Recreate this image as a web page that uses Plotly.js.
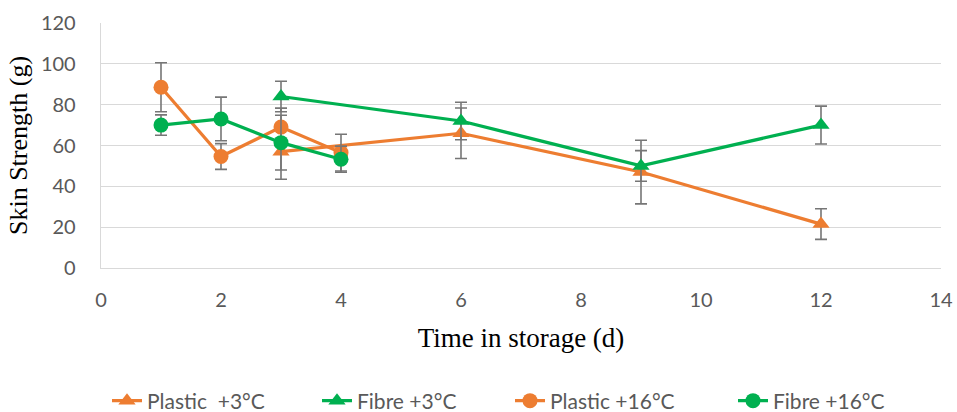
<!DOCTYPE html>
<html>
<head>
<meta charset="utf-8">
<script src="https://cdn.plot.ly/plotly-3.0.1.min.js"></script>
<style>html,body{margin:0;padding:0;background:#fff;}#chart{width:957px;height:412px;}</style>
</head>
<body>
<div id="chart"></div>
<script>
// Days in storage
const days3 = [3, 6, 9, 12];
const days16 = [1, 2, 3, 4];

// Skin strength (g) and error bar half-widths
const plastic3 = [57, 66, 47, 21.5];
const plastic3Err = [13.5, 12.4, 15.6, 7.5];
const fibre3 = [84, 72, 50, 70];
const fibre3Err = [7.5, 9.2, 7.5, 9.3];
const plastic16 = [88.5, 54.6, 69, 56.5];
const plastic16Err = [12, 6.3, 9.3, 9];
const fibre16 = [70, 73, 61.4, 53.3];
const fibre16Err = [5, 10.7, 13.4, 6.4];

const names = ['Plastic\u00a0 +3°C', 'Fibre +3°C', 'Plastic +16°C', 'Fibre +16°C'];
const xTicks = [0, 2, 4, 6, 8, 10, 12, 14];
const yTicks = [0, 20, 40, 60, 80, 100, 120];

const ORANGE = '#ED7D31';
const GREEN = '#00B050';
const ERR = '#767676';

function tr(x, y, err, name, color, symbol, legend) {
  return {
    x: x, y: y, name: name, type: 'scatter', mode: 'lines+markers',
    line: {color: color, width: 3.2},
    marker: {color: color, symbol: symbol, size: 15},
    error_y: {type: 'data', array: err, visible: true, color: ERR, thickness: 1.6, width: 6},
    legend: legend
  };
}

const data = [
  tr(days3, plastic3, plastic3Err, names[0], ORANGE, 'triangle-up', 'legend'),
  tr(days3, fibre3, fibre3Err, names[1], GREEN, 'triangle-up', 'legend2'),
  tr(days16, plastic16, plastic16Err, names[2], ORANGE, 'circle', 'legend3'),
  tr(days16, fibre16, fibre16Err, names[3], GREEN, 'circle', 'legend4')
];

const legFont = {family: 'Lato, sans-serif', size: 21, color: '#595959'};
function leg(xpx) {
  return {xref: 'container', yref: 'container', x: xpx / 957, xanchor: 'left',
          y: 1 - 401 / 412, yanchor: 'middle',
          orientation: 'h', font: legFont, bgcolor: 'rgba(0,0,0,0)', borderwidth: 0};
}

const tickFont = {family: 'Lato, sans-serif', size: 20, color: '#595959'};
const serif = 'Liberation Serif, Times New Roman, serif';

const layout = {
  width: 957, height: 412,
  margin: {l: 101, r: 16, t: 23, b: 144},
  paper_bgcolor: '#fff', plot_bgcolor: '#fff',
  showlegend: true,
  legend: leg(107), legend2: leg(317), legend3: leg(510), legend4: leg(733),
  xaxis: {
    range: [0, 14], tickvals: xTicks, ticktext: xTicks.map(String),
    showgrid: false, zeroline: false, showline: true, linecolor: '#d9d9d9', linewidth: 1.3,
    ticks: '', ticklabelstandoff: 14,
    tickfont: tickFont,
    title: {text: 'Time in storage (d)', font: {family: serif, size: 27, color: '#000'}, standoff: 17},
    automargin: false, fixedrange: true
  },
  yaxis: {
    range: [0, 120], tickvals: yTicks, ticktext: yTicks.map(String),
    showgrid: true, gridcolor: '#d9d9d9', gridwidth: 1.3,
    zeroline: false, showline: true, linecolor: '#d9d9d9', linewidth: 1.3,
    ticks: '', ticklabelstandoff: 20,
    tickfont: tickFont,
    title: {text: 'Skin Strength (g)', font: {family: serif, size: 26, color: '#000'}, standoff: 5},
    automargin: false, fixedrange: true
  }
};

Plotly.newPlot('chart', data, layout, {displayModeBar: false, staticPlot: true});
</script>
</body>
</html>
